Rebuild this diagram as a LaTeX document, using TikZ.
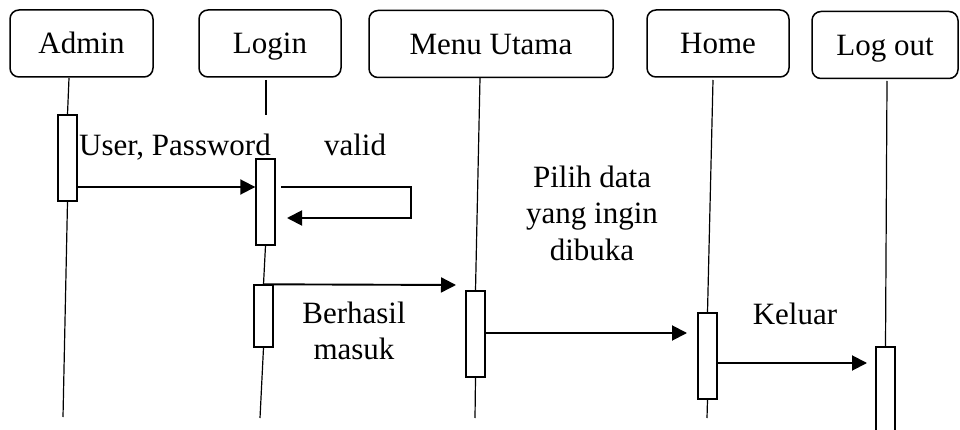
\documentclass[tikz,border=0pt]{standalone}
\usepackage{fontspec}
\setmainfont{Liberation Serif}
\usetikzlibrary{arrows.meta}
\begin{document}
\begin{tikzpicture}[x=1pt,y=-1pt,
  actor/.style={draw,line width=1.5pt,rounded corners=9pt,minimum height=67pt,inner sep=0pt,text height=28pt,text depth=7pt,font=\fontsize{31}{36}\selectfont},
  act/.style={draw,line width=1.4pt,fill=white,inner sep=0pt,minimum width=19pt},
  life/.style={line width=1.2pt},
  msg/.style={line width=1.9pt,-{Triangle[length=15pt,width=15pt]}},
  lbl/.style={font=\fontsize{31}{36}\selectfont,align=center,inner sep=0pt}]
\useasboundingbox (0,0) rectangle (960,430);
\clip (0,0) rectangle (960,430);

% actors
\node[actor,minimum width=143pt] (admin) at (81.5,43.5) {Admin};
\node[actor,minimum width=142pt] (login) at (270,43.5) {Login};
\node[actor,minimum width=244pt] (menu) at (491,44) {Menu Utama};
\node[actor,minimum width=142pt] (home) at (718,43.5) {Home};
\node[actor,minimum width=146pt] (logout) at (885,45) {Log out};

% lifeline anchor points
\coordinate (adtop) at (69,78);
\coordinate (adbot) at (63,417);
\coordinate (lgtop) at (266,80);
\coordinate (lgtopend) at (266,115);
\coordinate (lgbot) at (260,418);
\coordinate (mntop) at (480,78);
\coordinate (mnbot) at (475,418);
\coordinate (hmtop) at (713,80);
\coordinate (hmbot) at (707,418);
\coordinate (lotop) at (887,81);

% activations
\node[act,minimum height=86pt] (ad) at (67.5,158) {};
\node[act,minimum height=86pt] (la1) at (265.5,202) {};
\node[act,minimum height=62pt] (la2) at (263.5,316) {};
\node[act,minimum height=86pt] (ma) at (475.5,334) {};
\node[act,minimum height=86pt] (ha) at (707.5,356) {};
\node[act,minimum height=95pt] (lo) at (885.5,394.5) {};

% lifelines
\draw[life] (adtop) -- (ad.north);
\draw[life] (ad.south) -- (adbot);
\draw[life] (lgtop) -- (lgtopend);
\draw[life] (la1.south) -- (la2.north);
\draw[life] (la2.south) -- (lgbot);
\draw[life] (mntop) -- (ma.north);
\draw[life] (ma.south) -- (mnbot);
\draw[life] (hmtop) -- (ha.north);
\draw[life] (ha.south) -- (hmbot);
\draw[life] (lotop) -- (lo.north);

% message end points
\coordinate (s1) at (281,187);
\coordinate (s1r) at (411,218);
\coordinate (s1e) at (287,218);
\coordinate (m2e) at (456,285);
\coordinate (m3e) at (687,333);
\coordinate (m4e) at (867,363);

% messages
\draw[msg] (ad.east |- 0,187) -- (la1.west |- 0,187);
\draw[msg] (s1) -| (s1r) -- (s1e);
\draw[msg] (la2.north) -- (m2e);
\draw[msg] (ma.east |- 0,333) -- (m3e);
\draw[msg] (ha.east |- 0,363) -- (m4e);

% labels
\node[lbl,anchor=base] (l1) at (175,156) {User, Password};
\node[lbl,anchor=base] (l2) at (355,156) {valid};
\node[lbl,anchor=base] (l3a) at (592,188) {Pilih data};
\node[lbl,anchor=base] (l3b) at (592,224) {yang ingin};
\node[lbl,anchor=base] (l3c) at (592,260) {dibuka};
\node[lbl,anchor=base] (l4a) at (354,323) {Berhasil};
\node[lbl,anchor=base] (l4b) at (354,359) {masuk};
\node[lbl,anchor=base] (l5) at (795,324) {Keluar};
\end{tikzpicture}
\end{document}
